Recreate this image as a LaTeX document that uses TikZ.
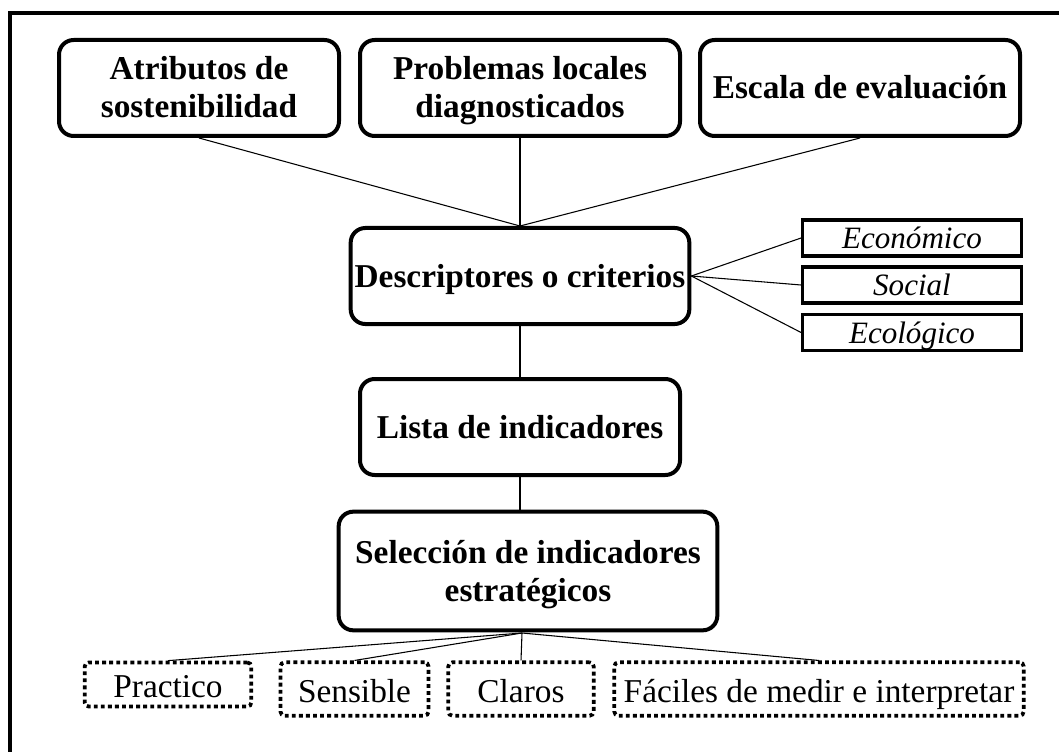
\documentclass[tikz,border=0pt]{standalone}
\usepackage{fontspec}
\setmainfont{Liberation Serif}
\newcommand\bstrut{\rule[-6pt]{0pt}{28.5pt}}
\newcommand\istrut{\rule[-5pt]{0pt}{26pt}}
\newcommand\dstrut{\rule[-5.5pt]{0pt}{30.5pt}}
\begin{document}
\begin{tikzpicture}[x=0.75pt,y=-0.75pt,
  mainbox/.style={draw, line width=3pt, rounded corners=11pt, align=center, inner sep=0pt,
    font=\fontsize{25}{28.5}\selectfont\bfseries, minimum height=72pt},
  italbox/.style={draw, line width=2.4pt, align=center, inner sep=0pt, minimum width=164pt,
    minimum height=27pt, font=\fontsize{23.3}{26}\selectfont\itshape},
  dotbox/.style={draw, line width=2.8pt, dash pattern=on 2.9pt off 2.4pt, rounded corners=3pt,
    align=center, inner sep=0pt, minimum height=40pt, font=\fontsize{25}{28.5}\selectfont},
  link/.style={draw, line width=0.8pt}]
\useasboundingbox (0,0) rectangle (1059,752);
\begin{scope}
\clip (0,0) rectangle (1059,752);
\draw[line width=3pt] (10.3,800) -- (10.3,13) -- (1100,13);
\end{scope}

\node[mainbox, minimum width=210pt] (b1) at (199,88) {\bstrut Atributos de\\\bstrut sostenibilidad};
\node[mainbox, minimum width=240pt] (b2) at (520,88) {\bstrut Problemas locales\\\bstrut diagnosticados};
\node[mainbox, minimum width=240pt] (b3) at (860,88) {\bstrut Escala de evaluación};
\node[mainbox, minimum width=254pt] (desc) at (520,276) {\bstrut Descriptores o criterios};
\node[italbox] (econ) at (912,238) {\istrut Económico};
\node[italbox] (soc) at (912,285) {\istrut Social};
\node[italbox] (ecol) at (912,332.5) {\istrut Ecológico};
\node[mainbox, minimum width=240pt] (lista) at (520,427) {\bstrut Lista de indicadores};
\node[mainbox, minimum width=284pt, minimum height=89pt] (sel) at (528,571) {\bstrut Selección de indicadores\\\bstrut estratégicos};
\node[dotbox, minimum width=125pt, minimum height=33pt] (prac) at (168,684.5) {\dstrut Practico};
\node[dotbox, minimum width=111pt] (sens) at (354.5,689) {\dstrut Sensible};
\node[dotbox, minimum width=109pt] (clar) at (521,689) {\dstrut Claros};
\node[dotbox, minimum width=307pt] (fac) at (819,689) {\dstrut Fáciles de medir e interpretar};

\coordinate (sb) at (522,633);

\draw[link] (b1.south) -- (desc.north);
\draw[link] (b2.south) -- (desc.north);
\draw[link] (b3.south) -- (desc.north);
\draw[link] (desc.east) -- (econ.west);
\draw[link] (desc.east) -- (soc.west);
\draw[link] (desc.east) -- (ecol.west);
\draw[link] (desc.south) -- (lista.north);
\draw[link] (lista.south) -- (lista.south |- sel.north);
\draw[link] (sb) -- (prac.north);
\draw[link] (sb) -- (sens.north);
\draw[link] (sb) -- (clar.north);
\draw[link] (sb) -- (fac.north);
\end{tikzpicture}
\end{document}
